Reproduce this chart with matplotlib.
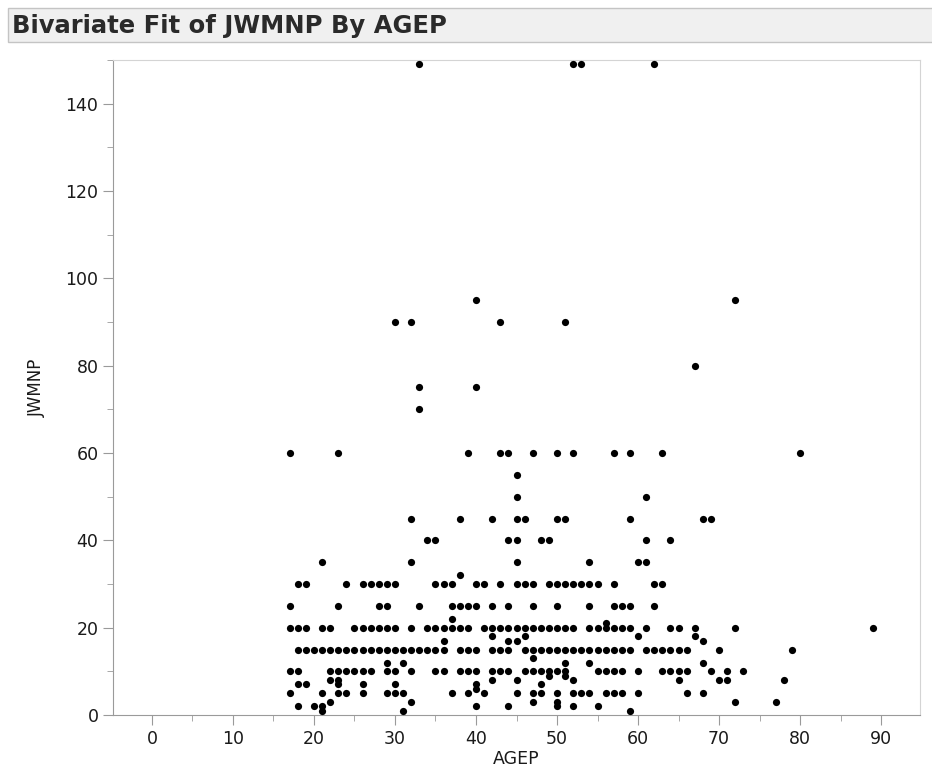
import numpy as np
import matplotlib.pyplot as plt
from matplotlib.patches import Rectangle
from matplotlib.ticker import MultipleLocator

# JWMNP value -> list of AGEP values having that travel time
ages_149 = [33, 52, 53, 62]
ages_95 = [40, 72]
ages_90 = [30, 32, 43, 51]
ages_80 = [67]
ages_75 = [33, 40]
ages_70 = [33]
ages_60 = [17, 23, 39, 43, 44, 47, 50, 52, 57, 59, 63, 80]
ages_55 = [45]
ages_50 = [45, 61]
ages_45 = [32, 38, 42, 45, 46, 50, 51, 59, 68, 69]
ages_40 = [34, 35, 44, 45, 48, 49, 61, 64]
ages_35 = [21, 32, 45, 54, 60, 61]
ages_32 = [38]
ages_30 = [18, 19, 24, 26, 27, 28, 29, 30, 35, 36, 37, 40, 41, 43, 45, 46, 47,
           49, 50, 51, 52, 53, 54, 55, 57, 62, 63]
ages_25 = [17, 23, 28, 29, 33, 37, 38, 39, 40, 42, 44, 47, 50, 54, 57, 58, 59, 62]
ages_22 = [37]
ages_21 = [56]
ages_20 = [17, 18, 19, 21, 22, 25, 26, 27, 28, 29, 30, 32, 34, 35, 36, 37, 38,
           39, 41, 42, 43, 44, 45, 46, 47, 48, 49, 50, 51, 52, 54, 55, 56, 57,
           58, 59, 61, 64, 65, 67, 72, 89]
ages_18 = [42, 46, 60, 67]
ages_17 = [36, 44, 45, 68]
ages_15 = [18, 19, 20, 21, 22, 23, 24, 25, 26, 27, 28, 29, 30, 31, 32, 33, 34,
           35, 36, 38, 39, 40, 42, 43, 44, 46, 47, 48, 49, 50, 51, 52, 53, 54,
           55, 56, 57, 58, 59, 61, 62, 63, 64, 65, 66, 70, 79]
ages_13 = [47]
ages_12 = [29, 31, 51, 54, 68]
ages_10 = [17, 18, 22, 23, 24, 25, 26, 27, 29, 30, 32, 35, 36, 38, 39, 40, 42,
           43, 44, 46, 47, 48, 49, 50, 51, 55, 56, 57, 58, 60, 63, 64, 65, 66,
           69, 71, 73]
ages_9 = [49, 51]
ages_8 = [22, 23, 42, 45, 52, 65, 70, 71, 78]
ages_7 = [18, 19, 23, 26, 30, 40, 48]
ages_6 = [40]
ages_5 = [17, 21, 23, 24, 26, 29, 30, 31, 37, 39, 41, 45, 47, 48, 50, 52, 53,
          54, 56, 57, 58, 60, 66, 68]
ages_3 = [22, 32, 47, 50, 72, 77]
ages_2 = [18, 20, 21, 40, 44, 50, 52, 55]
ages_1 = [21, 31, 59]

rows = {149: ages_149, 95: ages_95, 90: ages_90, 80: ages_80, 75: ages_75,
        70: ages_70, 60: ages_60, 55: ages_55, 50: ages_50, 45: ages_45,
        40: ages_40, 35: ages_35, 32: ages_32, 30: ages_30, 25: ages_25,
        22: ages_22, 21: ages_21, 20: ages_20, 18: ages_18, 17: ages_17,
        15: ages_15, 13: ages_13, 12: ages_12, 10: ages_10, 9: ages_9,
        8: ages_8, 7: ages_7, 6: ages_6, 5: ages_5, 3: ages_3, 2: ages_2,
        1: ages_1}

agep = []
jwmnp = []
for val, ages in rows.items():
    agep += ages
    jwmnp += [val] * len(ages)

fig = plt.figure(figsize=(9.32, 7.76), dpi=100)

# header bar with title
fig.patches.append(Rectangle((8 / 932, 1 - 42 / 776), 1.0, 34 / 776,
                             transform=fig.transFigure, facecolor='#f0f0f0',
                             edgecolor='#c4c4c4', linewidth=1))
fig.text(12 / 932, 1 - 26 / 776, 'Bivariate Fit of JWMNP By AGEP',
         fontsize=17.5, fontweight='bold', color='#2a2a2a', va='center', ha='left')

ax = fig.add_axes([113 / 932, 1 - 715 / 776, 807 / 932, 655 / 776])
ax.scatter(agep, jwmnp, s=27, color='black', linewidths=0, zorder=3, clip_on=False)

ax.set_xlim(-4.8, 94.8)
ax.set_ylim(0, 150)
ax.xaxis.set_major_locator(MultipleLocator(10))
ax.xaxis.set_minor_locator(MultipleLocator(5))
ax.yaxis.set_major_locator(MultipleLocator(20))
ax.yaxis.set_minor_locator(MultipleLocator(10))

for side in ['left', 'bottom']:
    ax.spines[side].set_color('#9a9a9a')
for side in ['top', 'right']:
    ax.spines[side].set_color('#d4d4d4')
ax.tick_params(which='major', direction='out', length=7, color='#9a9a9a',
               labelsize=12.5, labelcolor='#1a1a1a')
ax.tick_params(which='minor', direction='out', length=4, color='#9a9a9a')

ax.set_xlabel('AGEP', fontsize=12.5, color='#1a1a1a', labelpad=2)
ax.set_ylabel('JWMNP', fontsize=12, color='#1a1a1a', labelpad=14)

fig.savefig('out.png', dpi=100)
